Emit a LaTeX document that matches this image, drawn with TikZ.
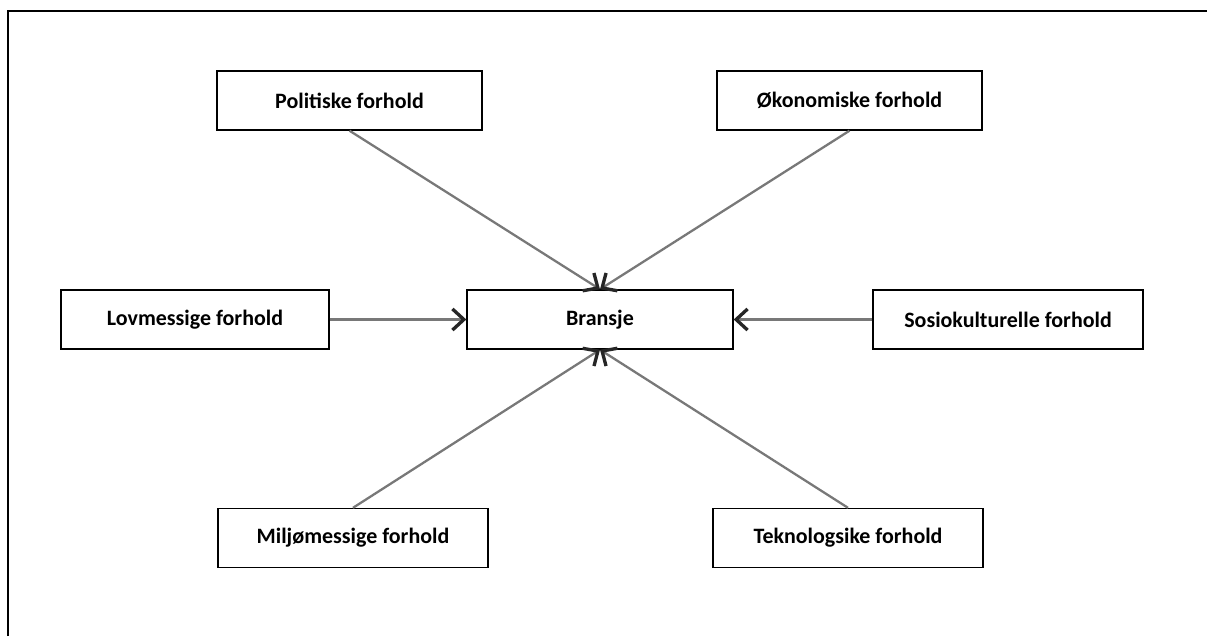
\documentclass[tikz,border=0pt]{standalone}
\usepackage{fontspec}
\setmainfont{Carlito}
\usetikzlibrary{arrows.meta, positioning}
\definecolor{line_gray}{RGB}{120, 120, 120}

\begin{document}
\begin{tikzpicture}[
    x=0.02cm, y=-0.02cm,
    factor/.style={
        rectangle,
        draw=black,
        line width=0.8pt,
        fill=white,
        minimum width=#1,
        minimum height=1.18cm,
        align=center,
        font=\fontsize{12.5}{15}\selectfont\bfseries
    },
    factor/.default=5.35cm,
    arrow/.style={
        -{Straight Barb[length=6.5pt, width=12pt, line width=1.9pt, color=black!85]},
        line width=1.3pt,
        draw=#1
    },
    arrow/.default=line_gray
]

\useasboundingbox (0,0) rectangle (1207,636);

% frame
\draw[line width=1.7pt] (8,636) -- (8,11) -- (1207,11);

\node[factor=5.32cm] (bransje) at (600,319.5) {Bransje};

\node[factor=5.3cm] (politiske) at (349.5,100.5) {Politiske forhold};
\node[factor=5.3cm] (okonomiske) at (849.5,100.5) {Økonomiske forhold};
\node[factor=5.36cm] (lovmessige) at (195,319.5) {Lovmessige forhold};
\node[factor=5.4cm] (sosio) at (1008,319.5) {Sosiokulturelle forhold};
\node[factor=5.4cm] (miljo) at (353,538) {Miljømessige forhold};
\node[factor=5.4cm] (teknologi) at (848,538) {Teknologsike forhold};

\draw[arrow] (politiske.south) -- (bransje.north);
\draw[arrow] (okonomiske.south) -- (bransje.north);
\draw[arrow] (lovmessige.east) -- (bransje.west);
\draw[arrow] (sosio.west) -- (bransje.east);
\draw[arrow] (miljo.north) -- (bransje.south);
\draw[arrow] (teknologi.north) -- (bransje.south);

\end{tikzpicture}
\end{document}
